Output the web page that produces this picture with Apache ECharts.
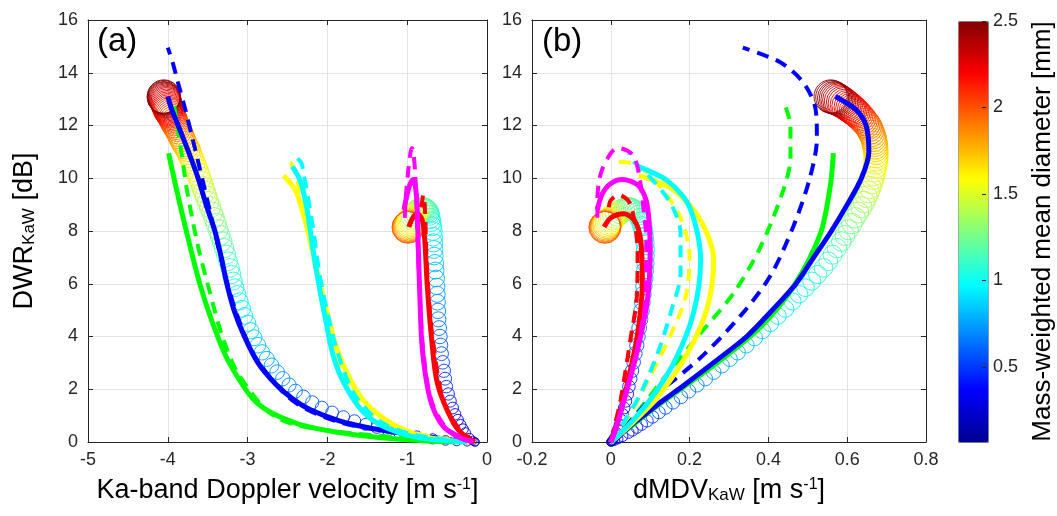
<!DOCTYPE html>
<html><head><meta charset="utf-8">
<script src="https://cdn.jsdelivr.net/npm/echarts@6/dist/echarts.min.js"></script>
<style>html,body{margin:0;padding:0;background:#fff}#c{width:1057px;height:516px}</style>
</head><body><div id="c"></div>
<script>
// ---------- tick labels ----------
const xTicksA = [-5, -4, -3, -2, -1, 0];
const xTicksB = [-0.2, 0, 0.2, 0.4, 0.6, 0.8];
const yTicks = [0, 2, 4, 6, 8, 10, 12, 14, 16];
const cbTicks = [0.5, 1, 1.5, 2, 2.5];

// ---------- model circles, set 1 (large-drop branch) ----------
const dm1 = [0.10,0.15,0.20,0.25,0.30,0.35,0.40,
  0.425,0.45,0.475,0.50,0.525,0.55,0.575,0.60,0.625,0.65,
  0.675,0.70,0.725,0.75,0.775,0.80,0.825,0.85,0.875,0.90,
  0.925,0.95,0.975,1.00,1.025,1.05,1.075,1.10,1.125,1.15,
  1.175,1.20,1.225,1.25,1.275,1.30,1.325,1.35,1.375,1.40,
  1.425,1.45,1.475,1.50,1.525,1.55,1.575,1.60,1.625,1.65,
  1.675,1.70,1.725,1.75,1.775,1.80,1.825,1.85,1.875,1.90,
  1.925,1.95,1.975,2.00,2.025,2.05,2.075,2.10,2.125,2.15,
  2.175,2.20,2.225,2.25,2.275,2.30,2.325,2.35,2.375,2.40,
  2.425,2.45,2.475,2.50];
const dwr1 = [0.00,0.01,0.03,0.06,0.12,0.22,0.35,
  0.44,0.55,0.67,0.80,0.95,1.12,1.30,1.50,1.71,1.93,
  2.16,2.40,2.65,2.90,3.15,3.40,3.67,3.95,4.22,4.50,
  4.78,5.05,5.33,5.60,5.85,6.10,6.35,6.60,6.85,7.10,
  7.35,7.60,7.83,8.05,8.28,8.50,8.70,8.90,9.10,9.30,
  9.48,9.65,9.83,10.00,10.15,10.30,10.45,10.60,10.73,10.85,
  10.98,11.10,11.20,11.30,11.40,11.50,11.60,11.70,11.80,11.90,
  11.98,12.05,12.13,12.20,12.27,12.33,12.39,12.45,12.50,12.55,
  12.60,12.65,12.70,12.75,12.80,12.85,12.89,12.93,12.97,13.00,
  13.03,13.05,13.08,13.10];
const mdv1 = [-0.15,-0.25,-0.38,-0.52,-0.68,-0.88,-1.10,
  -1.24,-1.38,-1.52,-1.66,-1.80,-1.94,-2.07,-2.19,-2.30,-2.40,
  -2.48,-2.56,-2.63,-2.70,-2.76,-2.82,-2.87,-2.92,-2.96,-3.00,
  -3.04,-3.07,-3.10,-3.13,-3.16,-3.18,-3.20,-3.22,-3.245,-3.27,
  -3.295,-3.32,-3.345,-3.37,-3.395,-3.42,-3.445,-3.47,-3.495,-3.52,
  -3.54,-3.56,-3.58,-3.60,-3.62,-3.64,-3.66,-3.68,-3.70,-3.72,
  -3.735,-3.75,-3.77,-3.79,-3.805,-3.82,-3.835,-3.85,-3.865,-3.88,
  -3.895,-3.91,-3.92,-3.93,-3.94,-3.95,-3.96,-3.97,-3.98,-3.99,
  -3.995,-4.00,-4.005,-4.01,-4.015,-4.02,-4.025,-4.03,-4.035,-4.04,
  -4.045,-4.05,-4.05,-4.05];
const dmdv1 = [0.000,0.002,0.005,0.010,0.018,0.030,0.045,
  0.055,0.066,0.078,0.092,0.106,0.122,0.139,0.158,0.178,0.198,
  0.219,0.240,0.261,0.282,0.302,0.322,0.344,0.365,0.385,0.405,
  0.424,0.443,0.461,0.478,0.494,0.510,0.525,0.540,0.552,0.563,
  0.574,0.585,0.594,0.603,0.612,0.620,0.628,0.636,0.643,0.649,
  0.654,0.658,0.662,0.665,0.667,0.669,0.671,0.672,0.673,0.673,
  0.673,0.672,0.671,0.670,0.669,0.667,0.665,0.662,0.659,0.656,
  0.653,0.649,0.645,0.641,0.637,0.633,0.629,0.625,0.621,0.617,
  0.613,0.609,0.605,0.600,0.596,0.591,0.587,0.582,0.578,0.574,
  0.570,0.566,0.562,0.558];

// ---------- model circles, set 2 (small-drop branch) ----------
const dm2 = [0.10,0.15,0.20,
  0.25,0.275,0.30,0.325,0.35,0.375,0.40,0.425,0.45,0.475,
  0.50,0.525,0.55,0.575,0.60,0.625,0.65,0.675,0.70,0.725,
  0.75,0.775,0.80,0.825,0.85,0.875,0.90,0.925,0.95,0.975,
  1.00,1.025,1.05,1.075,1.10,1.125,1.15,1.175,1.20,1.225,1.25,
  1.30,1.35,1.40,1.45,1.50,1.55,1.60,1.65,1.70,1.75,1.80,1.85,1.90,1.95,2.00];
const dwr2 = [0.00,0.05,0.15,
  0.35,0.49,0.65,0.84,1.05,1.29,1.55,1.82,2.10,2.40,
  2.70,3.02,3.35,3.67,4.00,4.32,4.65,4.97,5.30,5.60,
  5.90,6.20,6.50,6.78,7.05,7.30,7.55,7.78,8.00,8.18,
  8.35,8.48,8.60,8.68,8.75,8.79,8.82,8.84,8.85,8.84,8.83,
  8.78,8.72,8.65,8.58,8.52,8.46,8.40,8.35,8.30,8.26,8.22,8.19,8.17,8.15,8.14];
const mdv2 = [-0.15,-0.18,-0.22,
  -0.27,-0.30,-0.33,-0.365,-0.40,-0.43,-0.46,-0.485,-0.51,-0.525,
  -0.54,-0.555,-0.57,-0.58,-0.59,-0.60,-0.61,-0.615,-0.62,-0.625,
  -0.63,-0.637,-0.645,-0.652,-0.66,-0.665,-0.67,-0.675,-0.68,-0.69,
  -0.70,-0.71,-0.72,-0.73,-0.74,-0.755,-0.77,-0.785,-0.80,-0.815,-0.83,
  -0.86,-0.88,-0.90,-0.92,-0.93,-0.94,-0.95,-0.96,-0.97,-0.975,-0.98,-0.985,-0.99,-0.99,-0.99];
const dmdv2 = [0.000,0.003,0.008,
  0.015,0.018,0.022,0.026,0.030,0.034,0.038,0.042,0.046,0.050,
  0.054,0.058,0.062,0.066,0.069,0.072,0.075,0.078,0.080,0.082,
  0.084,0.086,0.087,0.088,0.088,0.088,0.087,0.085,0.083,0.080,
  0.077,0.074,0.070,0.066,0.062,0.058,0.054,0.050,0.046,0.042,0.038,
  0.031,0.024,0.017,0.011,0.006,0.002,-0.002,-0.005,-0.008,-0.010,-0.012,-0.013,-0.014,-0.015,-0.015];

// ---------- curves (DWR, Ka-band MDV, dMDV) ----------
const blueSolidDWR = [0,0.05,0.1,0.2,0.35,0.55,0.8,1.2,1.6,2.2,3.0,4.0,5.0,6.0,7.0,8.0,9.0,10.0,11.0,12.0,12.6,13.1];
const blueSolidMDV = [-0.17,-0.35,-0.5,-0.75,-1.1,-1.5,-1.85,-2.2,-2.42,-2.65,-2.87,-3.04,-3.17,-3.26,-3.33,-3.41,-3.52,-3.62,-3.74,-3.87,-3.95,-4.0];
const blueSolidDMDV = [0,0.005,0.01,0.02,0.03,0.045,0.065,0.1,0.135,0.19,0.26,0.345,0.41,0.47,0.515,0.56,0.6,0.636,0.655,0.648,0.622,0.57];

const blueDashDWR = [0,0.1,0.3,0.8,1.6,3.2,4.8,6.3,8.2,10.0,11.5,12.6,13.6,14.4,14.95];
const blueDashMDV = [-0.17,-0.5,-1.05,-1.9,-2.45,-2.9,-3.13,-3.28,-3.43,-3.57,-3.69,-3.78,-3.87,-3.94,-4.0];
const blueDashDMDV = [0,0.007,0.02,0.05,0.1,0.228,0.33,0.405,0.464,0.505,0.523,0.52,0.49,0.43,0.335];

const greenSolidDWR = [0,0.02,0.1,0.3,0.7,1.47,3.0,4.36,5.9,7.9,9.7,10.95];
const greenSolidMDV = [-0.2,-0.6,-1.1,-1.72,-2.38,-2.88,-3.23,-3.42,-3.59,-3.76,-3.9,-3.99];
const greenSolidDMDV = [0,0.002,0.008,0.025,0.06,0.127,0.27,0.38,0.464,0.532,0.557,0.565];

const greenDashDWR = [0,0.4,0.95,2.6,4.13,5.65,7.4,9.55,10.8,11.95,12.95];
const greenDashMDV = [-0.2,-1.9,-2.65,-3.12,-3.33,-3.47,-3.62,-3.76,-3.82,-3.88,-3.93];
const greenDashDMDV = [0,0.025,0.058,0.144,0.228,0.312,0.38,0.438,0.456,0.456,0.438];

const cyanSolidDWR = [0,0.1,0.3,0.8,1.6,3.0,4.9,6.9,8.9,9.9,10.45];
const cyanSolidMDV = [-0.25,-0.7,-1.05,-1.42,-1.67,-1.9,-2.04,-2.16,-2.26,-2.34,-2.44];
const cyanSolidDMDV = [0,0.008,0.022,0.055,0.1,0.16,0.21,0.228,0.2,0.144,0.068];

const yellowSolidDWR = [0,0.1,0.3,0.8,1.7,3.37,5.1,6.9,8.4,9.55,10.1];
const yellowSolidMDV = [-0.22,-0.6,-0.9,-1.25,-1.58,-1.86,-2.02,-2.16,-2.28,-2.4,-2.55];
const yellowSolidDMDV = [0,0.008,0.024,0.06,0.119,0.195,0.245,0.261,0.228,0.16,0.071];

const cyanDashDWR = [0,0.3,0.8,1.85,3.37,4.9,6.4,7.9,9.05,10.2,10.6,10.95];
const cyanDashMDV = [-0.25,-0.95,-1.35,-1.67,-1.87,-2.0,-2.1,-2.17,-2.23,-2.3,-2.33,-2.46];
const cyanDashDMDV = [0,0.013,0.035,0.076,0.119,0.152,0.177,0.177,0.152,0.09,0.06,0.046];

const yellowDashDWR = [0,0.4,1.1,2.5,4.0,5.5,7.0,8.4,9.6,10.55,10.63];
const yellowDashMDV = [-0.22,-1.0,-1.48,-1.8,-1.95,-2.07,-2.18,-2.27,-2.35,-2.45,-2.5];
const yellowDashDMDV = [0,0.018,0.05,0.1,0.15,0.19,0.2,0.18,0.13,0.06,0.004];

const magentaSolidDWR = [8.8,9.4,9.8,9.95,9.75,9.2,8.4,7.3,5.4,3.5,1.6,0.6,0.15,0];
const magentaSolidMDV = [-1.04,-1.0,-0.96,-0.92,-0.9,-0.88,-0.87,-0.86,-0.84,-0.81,-0.71,-0.55,-0.33,-0.17];
const magentaSolidDMDV = [-0.034,-0.022,0.0,0.03,0.068,0.089,0.097,0.1,0.093,0.068,0.034,0.015,0.004,0];

const magentaDashDWR = [8.5,9.2,10.2,10.95,11.15,10.9,10.2,8.7,7.66,5.5,3.5,1.6,0.5,0];
const magentaDashMDV = [-1.03,-1.02,-0.99,-0.96,-0.94,-0.92,-0.9,-0.88,-0.87,-0.84,-0.8,-0.7,-0.5,-0.17];
const magentaDashDMDV = [-0.034,-0.034,-0.025,0.0,0.017,0.055,0.071,0.084,0.09,0.088,0.066,0.033,0.012,0];

const redSolidDWR = [8.15,8.5,8.65,8.4,7.65,6.0,4.1,2.2,0.72,0.2,0];
const redSolidMDV = [-0.98,-0.93,-0.87,-0.81,-0.78,-0.75,-0.7,-0.62,-0.42,-0.27,-0.15];
const redSolidDMDV = [-0.017,0.0,0.034,0.06,0.076,0.08,0.068,0.042,0.017,0.005,0];

const redDashDWR = [8.9,9.17,9.37,9.0,7.15,5.5,3.9,1.6,0.5,0];
const redDashMDV = [-0.83,-0.81,-0.8,-0.78,-0.76,-0.73,-0.68,-0.55,-0.35,-0.15];
const redDashDMDV = [-0.005,0.0,0.02,0.05,0.068,0.066,0.05,0.025,0.008,0];

// ---------- build ----------
const FONT = '"Liberation Sans", Arial, Helvetica, sans-serif';
const INK = '#262626';
const JET = ['#00008f','#0000ff','#0080ff','#00ffff','#80ff80','#ffff00','#ff8000','#ff0000','#800000'];

function pts(xs, ys, cs) { return xs.map((x, i) => cs ? [x, ys[i], cs[i]] : [x, ys[i]]); }
function circles(xi, yi, data, sizeFn) {
  return {
    type: 'custom', xAxisIndex: xi, yAxisIndex: yi, silent: true,
    dimensions: ['x', 'y', 'dm'], encode: { x: 0, y: 1 }, data,
    renderItem: (params, api) => {
      const c = api.coord([api.value(0), api.value(1)]);
      return { type: 'circle', shape: { cx: c[0], cy: c[1], r: sizeFn(api.value(2)) / 2 },
        style: { fill: 'none', stroke: api.visual('color'), lineWidth: 0.9 } };
    }
  };
}
function curve(xi, yi, xs, ys, color, dashed) {
  return { type: 'line', xAxisIndex: xi, yAxisIndex: yi, data: pts(xs, ys), showSymbol: false,
    smooth: 0.3, silent: true, z: 3,
    lineStyle: { color, width: dashed ? 4 : 5, type: dashed ? [12, 8] : 'solid', cap: 'butt' } };
}
const size1 = d => 7 + 10.5 * d;
const size2 = d => 7 + 12.5 * d;

const curves = [
  ['#00ff00', true, greenDashDWR, greenDashMDV, greenDashDMDV],
  ['#00ff00', false, greenSolidDWR, greenSolidMDV, greenSolidDMDV],
  ['#0000ff', true, blueDashDWR, blueDashMDV, blueDashDMDV],
  ['#0000ff', false, blueSolidDWR, blueSolidMDV, blueSolidDMDV],
  ['#ffff00', true, yellowDashDWR, yellowDashMDV, yellowDashDMDV],
  ['#ffff00', false, yellowSolidDWR, yellowSolidMDV, yellowSolidDMDV],
  ['#00ffff', true, cyanDashDWR, cyanDashMDV, cyanDashDMDV],
  ['#00ffff', false, cyanSolidDWR, cyanSolidMDV, cyanSolidDMDV],
  ['#ff0000', true, redDashDWR, redDashMDV, redDashDMDV],
  ['#ff0000', false, redSolidDWR, redSolidMDV, redSolidDMDV],
  ['#ff00ff', true, magentaDashDWR, magentaDashMDV, magentaDashDMDV],
  ['#ff00ff', false, magentaSolidDWR, magentaSolidMDV, magentaSolidDMDV]
];

const series = [
  circles(0, 0, pts(mdv1, dwr1, dm1), size1),
  circles(0, 0, pts(mdv2, dwr2, dm2), size2),
  circles(2, 2, pts(dmdv1, dwr1, dm1), size1),
  circles(2, 2, pts(dmdv2, dwr2, dm2), size2)
];
curves.forEach(c => series.push(curve(0, 0, c[3], c[2], c[0], c[1])));
curves.forEach(c => series.push(curve(2, 2, c[4], c[2], c[0], c[1])));

const lblStyle = { color: INK, fontSize: 18, fontFamily: FONT };
const frameLine = { show: true, onZero: false, lineStyle: { color: INK, width: 1 } };
const tickIn = { show: true, inside: true, length: 5, lineStyle: { color: INK } };
const gridLine = { show: true, lineStyle: { color: '#e3e3e3', width: 1 } };
const nameStyle = { color: '#000', fontSize: 27, fontFamily: FONT,
  rich: { sup: { fontSize: 16, verticalAlign: 'top', fontFamily: FONT, color: '#000' },
          sub: { fontSize: 17, verticalAlign: 'bottom', fontFamily: FONT, color: '#000' } } };

function xMain(g, min, max, step, name) {
  return { gridIndex: g, type: 'value', min, max, interval: step, position: 'bottom',
    axisLine: frameLine, axisTick: tickIn, splitLine: gridLine,
    axisLabel: { ...lblStyle, margin: 9 },
    name, nameLocation: 'middle', nameGap: 35, nameTextStyle: nameStyle };
}
function xTop(g, min, max, step) {
  return { gridIndex: g, type: 'value', min, max, interval: step, position: 'top',
    axisLine: frameLine, axisTick: tickIn, splitLine: { show: false }, axisLabel: { show: false } };
}
function yMain(g, name) {
  return { gridIndex: g, type: 'value', min: yTicks[0], max: yTicks[yTicks.length - 1], interval: 2,
    position: 'left', axisLine: frameLine, axisTick: tickIn, splitLine: gridLine,
    axisLabel: { ...lblStyle, margin: 10 },
    name, nameLocation: 'middle', nameGap: 50, nameRotate: 90, nameTextStyle: nameStyle };
}
function yRight(g) {
  return { gridIndex: g, type: 'value', min: yTicks[0], max: yTicks[yTicks.length - 1], interval: 2,
    position: 'right', axisLine: frameLine, axisTick: tickIn, splitLine: { show: false }, axisLabel: { show: false } };
}

const option = {
  animation: false,
  backgroundColor: '#ffffff',
  title: [
    { text: '(a)', left: 97, top: 25, padding: 0, textStyle: { fontSize: 33, fontWeight: 'normal', color: '#000', fontFamily: FONT } },
    { text: '(b)', left: 542, top: 25, padding: 0, textStyle: { fontSize: 33, fontWeight: 'normal', color: '#000', fontFamily: FONT } }
  ],
  grid: [
    { left: 88, top: 20, width: 399, height: 422 },
    { left: 532, top: 20, width: 394, height: 422 },
    { left: 958, top: 21, width: 30, height: 421 }
  ],
  xAxis: [
    xMain(0, xTicksA[0], xTicksA[xTicksA.length - 1], 1, 'Ka-band Doppler velocity [m s{sup|-1}]'),
    xTop(0, xTicksA[0], xTicksA[xTicksA.length - 1], 1),
    xMain(1, xTicksB[0], xTicksB[xTicksB.length - 1], 0.2, 'dMDV{sub|KaW} [m s{sup|-1}]'),
    xTop(1, xTicksB[0], xTicksB[xTicksB.length - 1], 0.2),
    { gridIndex: 2, type: 'value', min: 0, max: 1, show: false }
  ],
  yAxis: [
    yMain(0, 'DWR{sub|KaW} [dB]'),
    yRight(0),
    yMain(1, ''),
    yRight(1),
    { gridIndex: 2, type: 'value', min: 0.065, max: cbTicks[cbTicks.length - 1], position: 'right', z: 10,
      axisLine: { show: false, onZero: false }, splitLine: { show: false },
      axisTick: { show: true, inside: true, length: 4, lineStyle: { color: INK }, customValues: cbTicks },
      axisLabel: { ...lblStyle, margin: 7, customValues: cbTicks, formatter: v => String(v) },
      name: 'Mass-weighted mean diameter [mm]', nameLocation: 'middle', nameGap: 44, nameRotate: 90,
      nameTextStyle: { color: '#000', fontSize: 26, fontFamily: FONT } }
  ],
  visualMap: {
    type: 'continuous', min: 0.065, max: 2.5, dimension: 2, seriesIndex: [0, 1, 2, 3],
    orient: 'vertical', left: 958, top: 21, itemWidth: 30, itemHeight: 421, padding: 0,
    calculable: false, hoverLink: false, inRange: { color: JET },
    borderColor: '#8c8c8c', borderWidth: 1
  },
  series
};
const chart = echarts.init(document.getElementById('c'));
chart.setOption(option);
</script>
</body></html>
